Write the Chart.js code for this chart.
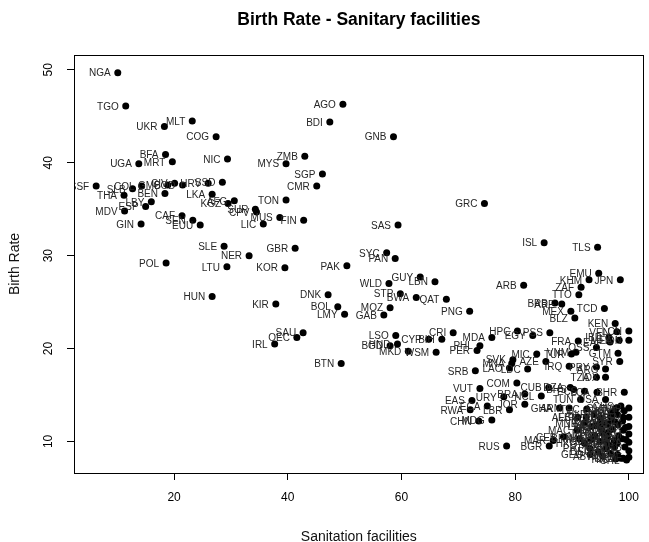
<!DOCTYPE html>
<html>
<head>
<meta charset="utf-8">
<script src="https://cdn.jsdelivr.net/npm/chart.js@4.4.1/dist/chart.umd.min.js"></script>
<style>
  html, body { margin: 0; padding: 0; background: #fff; }
</style>
</head>
<body>
<canvas id="chart" width="649" height="542"></canvas>
<script>
// country codes (dense lower-right cluster estimated)
const codes = [
  'NGA','TGO','MLT','UKR','COG','BFA','MRT','UGA','NIC','SSF',
  'SLB','COL','THA','GMB','CIV','COD','HRV','SSD','BEN','LKA',
  'AFG','KGZ','SUR','CPV','LBY','ESP','MDV','CAF','SEN','EUU',
  'GIN','MUS','LIC','FIN','TON','SLE','NER','POL','LTU','HUN',
  'AGO','BDI','GNB','ZMB','MYS','SGP','CMR','SAS','GBR','KOR',
  'PAK','SYC','PAN','GUY','LBN','WLD','STP','BWA','QAT','DNK',
  'KIR','BOL','LMY','MOZ','GAB','PNG','ARB','GRC','ISL','TLS',
  'EMU','KHM','JPN','ZAF','TTO','BRB','ARE','MEX','BLZ','TCD',
  'KEN','SAU','OEC','IRL','BTN','LSO','BGD','HND','CYP','BIH',
  'CRI','MKD','WSM','MDA','PHL','PER','HPC','EGY','PSS','FRA',
  'OSS','EAP','VNM','TUR','GTM','SYR','IRQ','PRY','ARG','TZA',
  'IDX','MIC','AZE','SVK','MNA','LAO','LDC','SRB','COM','VUT',
  'CUB','URY','BRA','NCL','JOR','LBR','EAS','ECA','RWA','CHN',
  'MDG','RUS','BGR','MAR','GHA','ARM','DZA','BHS','ECS','LCA',
  'TUN','USA','BHR','CHS','VEN','LCN','MEA','IDN','IBD','CEB',
  'ALB','ECU','MNE','LVA','MAC','BRN','HKG','PRT','ITA','DEU',
  'AUT','CHE','SWE','NOR','NLD','BEL','LUX','SVN','CZE','ROU',
  'BLR','CAN','AUS','NZL','ISR','KWT','OMN','PRI','ABW','AND',
  'BMU','CYM','FRO','GRL','GUM','IMN','LIE','MCO','SMR','VIR',
  'ASM','CUW','SXM','TCA','MNP','PYF','CHL','KAZ','EST','TEC',
  'HIC','GEO','DMA','ATG','KNA','GRD','VCT','JAM','FJI','MNG',
  'IRN','SLV'
];

const sanitation = [
  10.1, 11.5, 23.2, 18.3, 27.4, 18.5, 19.7, 13.8, 29.4, 6.3,
  12.7, 14.3, 11.2, 18.9, 20.1, 21.5, 26.0, 28.5, 18.4, 26.7,
  30.6, 29.5, 34.3, 34.5, 16.0, 15.0, 11.3, 21.4, 23.3, 24.6,
  14.2, 38.6, 35.7, 42.8, 39.7, 28.8, 33.2, 18.6, 29.3, 26.7,
  49.7, 47.4, 58.6, 43.0, 39.7, 46.1, 45.1, 59.4, 41.3, 39.5,
  50.4, 57.4, 58.9, 63.3, 65.9, 57.8, 59.8, 62.6, 67.9, 47.1,
  37.9, 48.8, 50.0, 58.0, 56.9, 72.0, 81.5, 74.6, 85.1, 94.5,
  94.7, 93.0, 98.5, 91.6, 91.2, 87.0, 88.2, 89.8, 90.5, 95.7,
  97.6, 42.7, 41.6, 37.7, 49.4, 59.0, 58.0, 59.3, 64.8, 67.1,
  69.1, 61.2, 66.1, 75.9, 73.8, 73.3, 80.4, 83.1, 86.1, 91.1,
  94.3, 96.7, 90.7, 89.9, 98.1, 98.4, 89.5, 94.3, 95.9, 94.3,
  95.9, 83.8, 85.4, 79.6, 79.4, 79.0, 82.2, 73.0, 80.3, 73.8,
  85.9, 78.0, 81.7, 84.6, 81.7, 79.0, 72.4, 75.1, 72.1, 73.6,
  75.9, 78.5, 86.0, 86.7, 87.8, 89.5, 89.7, 90.3, 92.2, 94.4,
  91.5, 95.9, 99.2, 98.6, 97.9, 100, 98.3, 100, 96.5, 88.5,
  91.0, 92.5, 92.2, 93.5, 90.9, 91.3, 92.2, 93.1, 95.9, 94.6,
  96.5, 97.4, 98.2, 99.0, 94.0, 95.2, 96.3, 97.0, 98.0, 95.0,
  93.9, 96.2, 97.1, 98.1, 99.0, 99.2, 97.8, 96.8, 95.4, 98.0,
  99.3, 99.0, 97.5, 96.0, 94.9, 93.4, 94.3, 95.6, 96.9, 100,
  100, 100, 100, 100, 100, 100, 99.6, 98.6, 97.4, 92.6,
  97.7, 93.2, 96.4, 97.6, 98.8, 99.4, 96.8, 97.9, 98.9, 95.3,
  99.5, 94.8
];

const birthRate = [
  49.7, 46.1, 44.5, 43.9, 42.8, 40.9, 40.1, 39.9, 40.4, 37.5,
  37.2, 37.5, 36.5, 37.6, 37.8, 37.6, 37.8, 37.9, 36.7, 36.6,
  35.9, 35.6, 35.0, 34.7, 35.8, 35.3, 34.8, 34.3, 33.8, 33.3,
  33.4, 34.1, 33.4, 33.8, 36.0, 31.0, 30.0, 29.2, 28.8, 25.6,
  46.3, 44.4, 42.8, 40.7, 39.9, 38.8, 37.5, 33.3, 30.8, 28.7,
  28.9, 30.3, 29.7, 27.7, 27.2, 27.0, 25.9, 25.5, 25.3, 25.8,
  24.8, 24.5, 23.7, 24.4, 23.6, 24.0, 26.8, 35.6, 31.4, 30.9,
  28.1, 27.4, 27.4, 26.6, 25.8, 24.9, 24.8, 24.0, 23.3, 24.3,
  22.7, 21.7, 21.2, 20.5, 18.4, 21.4, 20.3, 20.5, 21.0, 21.0,
  21.7, 19.7, 19.6, 21.2, 20.3, 19.8, 21.9, 21.4, 21.7, 20.8,
  20.1, 20.7, 19.6, 19.4, 19.5, 18.6, 18.1, 18.0, 17.8, 16.9,
  16.9, 19.4, 18.6, 18.8, 18.4, 17.9, 17.8, 17.6, 16.3, 15.7,
  15.8, 14.8, 15.1, 14.9, 14.0, 13.4, 14.4, 13.8, 13.4, 12.2,
  12.3, 9.5, 9.5, 10.1, 13.6, 13.6, 15.8, 15.6, 15.4, 15.3,
  14.5, 14.5, 15.3, 13.8, 21.8, 21.9, 20.9, 20.9, 21.2, 10.5,
  12.6, 12.6, 12.0, 11.6, 11.2, 10.3, 9.8, 9.3, 9.2, 8.9,
  9.6, 10.1, 10.6, 11.2, 10.6, 11.3, 11.9, 12.4, 12.9, 12.5,
  12.9, 10.4, 11.3, 11.8, 12.6, 13.3, 13.6, 8.7, 8.4, 8.6,
  9.4, 8.2, 9.4, 10.0, 10.0, 10.2, 11.7, 12.0, 13.0, 13.6,
  12.6, 11.6, 10.8, 9.9, 9.0, 8.3, 8.0, 8.2, 13.3, 13.5,
  8.1, 8.6, 11.0, 12.1, 10.3, 11.5, 12.7, 9.8, 12.2, 10.9,
  10.2, 11.9
];

const xTicks = [20, 40, 60, 80, 100];
const yTicks = [10, 20, 30, 40, 50];

const FONT = '"Liberation Sans", Arial, sans-serif';
Chart.defaults.font.family = FONT;

const points = codes.map((c, i) => ({x: sanitation[i], y: birthRate[i]}));

// R-style box, point labels and vertical y tick labels
const rStyle = {
  id: 'rStyle',
  afterDatasetsDraw(chart) {
    const {ctx, chartArea: a} = chart;
    const meta = chart.getDatasetMeta(0);
    ctx.save();
    ctx.beginPath();
    ctx.rect(a.left, a.top, a.right - a.left, a.bottom - a.top);
    ctx.clip();
    ctx.font = '10px ' + FONT;
    ctx.fillStyle = '#262626';
    ctx.textAlign = 'right';
    ctx.textBaseline = 'middle';
    meta.data.forEach((pt, i) => {
      ctx.fillText(codes[i], pt.x - 7, pt.y + 1);
    });
    ctx.restore();

    ctx.save();
    ctx.strokeStyle = '#000';
    ctx.lineWidth = 1;
    ctx.strokeRect(Math.round(a.left) + 0.5, Math.round(a.top) + 0.5,
                   Math.round(a.right - a.left) - 1, Math.round(a.bottom - a.top));
    ctx.restore();

    const ys = chart.scales.y;
    ctx.save();
    ctx.font = '12px ' + FONT;
    ctx.fillStyle = '#000';
    ctx.textAlign = 'center';
    ctx.textBaseline = 'middle';
    ys.ticks.forEach(t => {
      const py = ys.getPixelForValue(t.value);
      ctx.save();
      ctx.translate(ys.right - 25, py);
      ctx.rotate(-Math.PI / 2);
      ctx.fillText(String(t.value), 0, 0);
      ctx.restore();
    });
    ctx.restore();
  }
};

new Chart(document.getElementById('chart'), {
  type: 'scatter',
  data: {
    datasets: [{
      data: points,
      backgroundColor: '#000',
      borderWidth: 0,
      pointRadius: 3.5,
      pointHoverRadius: 3.5
    }]
  },
  options: {
    responsive: false,
    animation: false,
    devicePixelRatio: 1,
    layout: {padding: {top: 0, right: 2, bottom: 0, left: 0}},
    plugins: {
      legend: {display: false},
      tooltip: {enabled: false},
      title: {
        display: true,
        text: 'Birth Rate - Sanitary facilities',
        fullSize: false,
        color: '#000',
        font: {size: 17.5, weight: 'bold', family: FONT},
        padding: {top: 10, bottom: 24}
      }
    },
    scales: {
      x: {
        type: 'linear',
        min: 2.4,
        max: 102.6,
        afterBuildTicks: s => { s.ticks = xTicks.map(v => ({value: v})); },
        afterFit: s => { s.height = 69; },
        border: {display: false},
        grid: {drawOnChartArea: false, drawTicks: true, tickLength: 7, color: '#000'},
        ticks: {color: '#000', font: {size: 12}, padding: 10, maxRotation: 0},
        title: {
          display: true,
          text: 'Sanitation facilities',
          color: '#111',
          font: {size: 14},
          padding: {top: 0, bottom: -4}
        }
      },
      y: {
        type: 'linear',
        min: 6.6,
        max: 51.6,
        afterBuildTicks: s => { s.ticks = yTicks.map(v => ({value: v})); },
        afterFit: s => { s.width = 74; },
        border: {display: false},
        grid: {drawOnChartArea: false, drawTicks: true, tickLength: 7, color: '#000'},
        ticks: {display: false},
        title: {
          display: true,
          text: 'Birth Rate',
          color: '#111',
          font: {size: 14},
          padding: {top: 7, bottom: 0}
        }
      }
    }
  },
  plugins: [rStyle]
});
</script>
</body>
</html>
